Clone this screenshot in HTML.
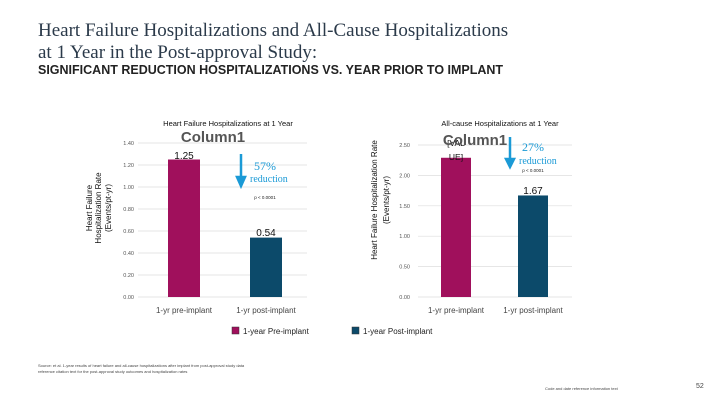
<!DOCTYPE html>
<html><head><meta charset="utf-8"><style>
body{margin:0;width:720px;height:405px;background:#fff;overflow:hidden;font-family:"Liberation Sans",sans-serif;position:relative}
.t{position:absolute;white-space:nowrap}
</style></head><body>
<div class="t" style="left:38px;top:20px;font-family:'Liberation Serif',serif;font-size:19px;line-height:22px;color:#2b3a4a">Heart Failure Hospitalizations and All-Cause Hospitalizations<br>at 1 Year in the Post-approval Study:</div>
<div class="t" style="left:38px;top:63px;font-size:12.5px;font-weight:bold;color:#222">SIGNIFICANT REDUCTION HOSPITALIZATIONS VS. YEAR PRIOR TO IMPLANT</div>
<svg id="c" width="720" height="405" style="position:absolute;left:0;top:0"></svg>
<div class="t" style="left:38px;top:363px;font-size:4px;color:#444;line-height:6px">Source: et al. 1-year results of heart failure and all-cause hospitalizations after implant from post-approval study data<br>reference citation text for the post-approval study outcomes and hospitalization rates</div>
<div class="t" style="left:545px;top:386px;font-size:4px;color:#444">Code and date reference information text</div>
<div class="t" style="left:696px;top:383px;font-size:7px;color:#444">52</div>
<script>
const categories=["1-yr pre-implant","1-yr post-implant"];
const hfValues=[1.25,0.54];
const acValues=[2.29,1.67];
const hfTicks=[0,0.2,0.4,0.6,0.8,1.0,1.2,1.4];
const acTicks=[0,0.5,1.0,1.5,2.0,2.5];
const colors=["#a0105c","#0c4a6a"];
const svg=document.getElementById('c');
const NS='http://www.w3.org/2000/svg';
function mk(tag,attrs,name,text){const e=document.createElementNS(NS,tag);for(const k in attrs)e.setAttribute(k,attrs[k]);


if(text!==undefined)e.textContent=text;svg.appendChild(e);return e;}
function chart(o){
 const y=v=>o.y0-(v/o.max)*(o.y0-o.ytop);
 o.ticks.forEach(t=>{
  mk('line',{x1:o.x1,x2:o.x2,y1:y(t),y2:y(t),stroke:'#ddd','stroke-width':0.7},'gridline');
  mk('text',{x:o.tx,y:y(t)+2,'font-size':5.5,fill:'#555','text-anchor':'end'},'y-tick-label',t.toFixed(2));
 });
 const bw=(o.b2-o.b1)/categories.length;
 o.vals.forEach((v,i)=>{
  const cx=o.b1+bw*(i+0.5);
  mk('rect',{x:cx-o.w/2,y:y(v),width:o.w,height:o.y0-y(v),fill:colors[i]},'bar-'+(i?'post':'pre'));
  mk('text',{x:cx,y:o.y0+16,'font-size':8,fill:'#444','text-anchor':'middle'},'x-tick-label',categories[i]);
 });
}
chart({x1:138,x2:307,b1:143,b2:307,y0:297,ytop:143,max:1.4,ticks:hfTicks,vals:hfValues,tx:134,w:32});
chart({x1:418,x2:572,b1:417.5,b2:571.5,y0:297,ytop:145,max:2.5,ticks:acTicks,vals:acValues,tx:410,w:30});
mk('text',{x:184,y:159,'font-size':10,fill:'#111','text-anchor':'middle'},'value-label','1.25');
mk('text',{x:266,y:236,'font-size':10,fill:'#111','text-anchor':'middle'},'value-label','0.54');
mk('text',{x:456,y:146,'font-size':8.5,fill:'#111','text-anchor':'middle'},'value-label','[VAL');
mk('text',{x:456,y:160,'font-size':8.5,fill:'#111','text-anchor':'middle'},'value-label','UE]');
mk('text',{x:533,y:194,'font-size':10,fill:'#111','text-anchor':'middle'},'value-label','1.67');
mk('text',{x:228,y:126,'font-size':7.5,fill:'#111','text-anchor':'middle'},'chart-title','Heart Failure Hospitalizations at 1 Year');
mk('text',{x:213,y:142,'font-size':15,fill:'#555','text-anchor':'middle','font-weight':'bold'},'chart-subtitle','Column1');
mk('text',{x:500,y:126,'font-size':7.5,fill:'#111','text-anchor':'middle'},'chart-title','All-cause Hospitalizations at 1 Year');
mk('text',{x:475,y:145,'font-size':15,fill:'#555','text-anchor':'middle','font-weight':'bold'},'chart-subtitle','Column1');
mk('path',{d:'M241,154 L241,177 L237,177 L241,186 L245,177 L241,177',stroke:'#1b9ad6','stroke-width':2.5,fill:'#1b9ad6'},'reduction-arrow');
mk('text',{x:254,y:170,'font-size':12,fill:'#1b9ad6','font-family':'Liberation Serif'},'reduction-pct','57%');
mk('text',{x:250,y:182,'font-size':10,fill:'#1b9ad6','font-family':'Liberation Serif'},'reduction-text','reduction');
mk('text',{x:265,y:199,'font-size':4.5,fill:'#222','text-anchor':'middle'},'p-value','p < 0.0001');
mk('path',{d:'M510,137 L510,159 L506,159 L510,167 L514,159 L510,159',stroke:'#1b9ad6','stroke-width':2.5,fill:'#1b9ad6'},'reduction-arrow');
mk('text',{x:522,y:151,'font-size':12,fill:'#1b9ad6','font-family':'Liberation Serif'},'reduction-pct','27%');
mk('text',{x:519,y:164,'font-size':10,fill:'#1b9ad6','font-family':'Liberation Serif'},'reduction-text','reduction');
mk('text',{x:533,y:172,'font-size':4.5,fill:'#222','text-anchor':'middle'},'p-value','p < 0.0001');
mk('text',{transform:'translate(92,208) rotate(-90)','font-size':8,fill:'#111','text-anchor':'middle'},'y-axis-title','Heart Failure');
mk('text',{transform:'translate(101,208) rotate(-90)','font-size':8,fill:'#111','text-anchor':'middle'},'y-axis-title','Hospitalization Rate');
mk('text',{transform:'translate(111,208) rotate(-90)','font-size':8,fill:'#111','text-anchor':'middle'},'y-axis-title','(Events/pt-yr)');
mk('text',{transform:'translate(377,200) rotate(-90)','font-size':8,fill:'#111','text-anchor':'middle'},'y-axis-title','Heart Failure Hospitalization Rate');
mk('text',{transform:'translate(389,200) rotate(-90)','font-size':8,fill:'#111','text-anchor':'middle'},'y-axis-title','(Events/pt-yr)');
mk('rect',{x:232,y:327,width:7,height:7,fill:colors[0],stroke:'#333','stroke-width':0.5},'legend-swatch-pre');
mk('text',{x:243,y:334,'font-size':8,fill:'#222'},'legend-entry','1-year Pre-implant');
mk('rect',{x:352,y:327,width:7,height:7,fill:colors[1],stroke:'#333','stroke-width':0.5},'legend-swatch-post');
mk('text',{x:363,y:334,'font-size':8,fill:'#222'},'legend-entry','1-year Post-implant');
</script>
</body></html>
